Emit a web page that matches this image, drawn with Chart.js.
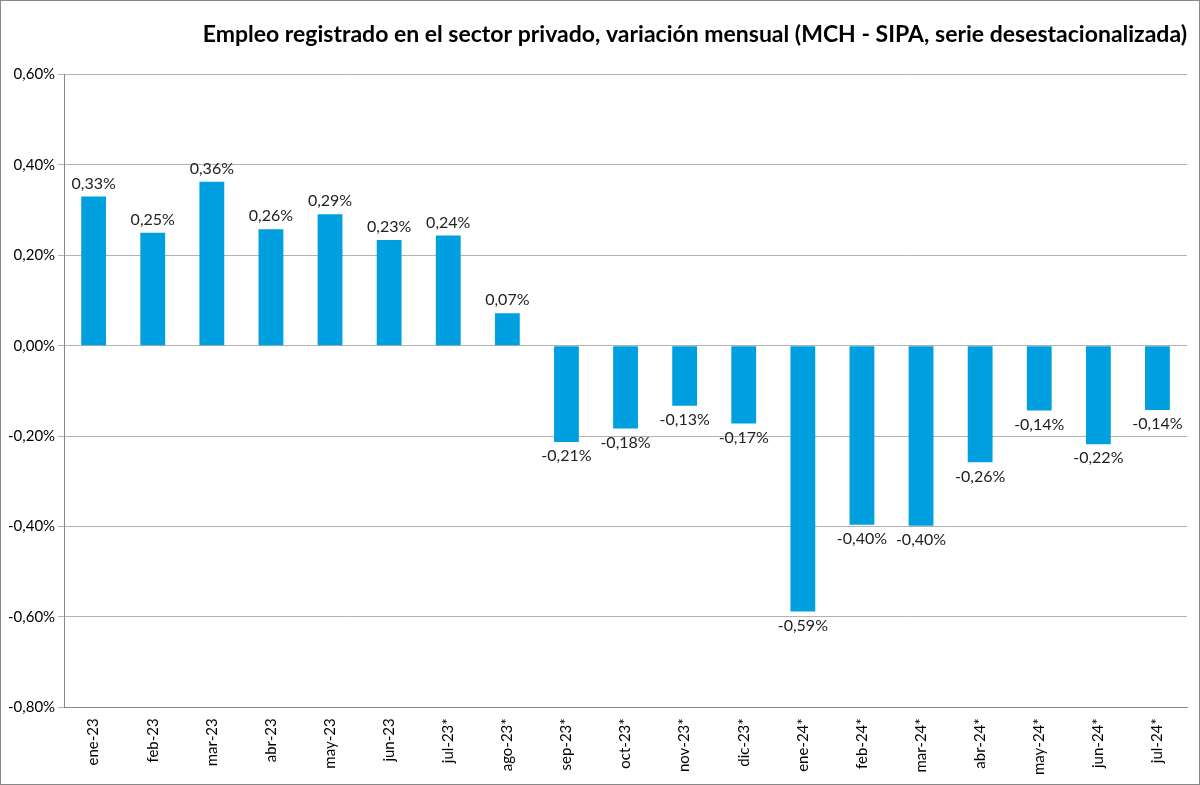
<!DOCTYPE html>
<html>
<head>
<meta charset="utf-8">
<script src="https://cdn.jsdelivr.net/npm/chart.js@4"></script>
<style>
  html, body { margin: 0; padding: 0; background: #fff; }
  #marco { width: 1198px; height: 783px; border: 1px solid #888; position: relative; }
</style>
</head>
<body>
<div id="marco"><canvas id="graficoEmpleo" width="1198" height="783"></canvas></div>
<script>
// ------------------------------------------------ DATOS ------------------------------------------------
const meses = ["ene-23", "feb-23", "mar-23", "abr-23", "may-23", "jun-23", "jul-23*", "ago-23*", "sep-23*", "oct-23*",
    "nov-23*", "dic-23*", "ene-24*", "feb-24*", "mar-24*", "abr-24*", "may-24*", "jun-24*", "jul-24*"];
const variacion = [0.33, 0.25, 0.363, 0.258, 0.291, 0.234, 0.244, 0.072, -0.213, -0.183,
    -0.133, -0.172, -0.588, -0.396, -0.398, -0.258, -0.143, -0.218, -0.142];
const ticksEjeY = [0.6, 0.4, 0.2, 0, -0.2, -0.4, -0.6, -0.8];

const formatoPct = v => v.toFixed(2).replace('.', ',') + '%';

// ------------------------------------------- ETIQUETAS DE DATOS ----------------------------------------------
const etiquetasBarras = {
    id: 'etiquetasBarras',
    afterDatasetsDraw(chart) {
        const ctx = chart.ctx;
        const meta = chart.getDatasetMeta(0);
        ctx.save();
        ctx.font = '16px Lato, "Open Sans", sans-serif';
        ctx.fillStyle = '#222';
        ctx.textAlign = 'center';
        meta.data.forEach((barra, i) => {
            const v = variacion[i];
            if (v >= 0) {
                ctx.textBaseline = 'bottom';
                ctx.fillText(formatoPct(v), barra.x, barra.y - 5);
            } else {
                ctx.textBaseline = 'top';
                ctx.fillText(formatoPct(v), barra.x, barra.y + 6);
            }
        });
        ctx.restore();
    }
};

const configEmpleo = {
    type: 'bar',
    data: {
        labels: meses,
        datasets: [{
            label: 'Variación mensual',
            data: variacion,
            backgroundColor: '#009FDF',
            barPercentage: 0.42,
            categoryPercentage: 1
        }]
    },
    options: {
        responsive: false,
        animation: false,
        layout: { padding: { top: 0, right: 12, left: 4, bottom: 6 } },
        plugins: {
            legend: { display: false },
            tooltip: { enabled: false },
            title: {
                display: true,
                text: 'Empleo registrado en el sector privado, variación mensual (MCH - SIPA, serie desestacionalizada)',
                color: '#000',
                align: 'end',
                font: { size: 23, weight: 'bold', family: 'Lato, "Open Sans", sans-serif' },
                padding: { top: 20, bottom: 26 }
            }
        },
        scales: {
            x: {
                grid: { display: false, drawTicks: true },
                border: { color: '#888' },
                ticks: {
                    color: '#000',
                    maxRotation: 90,
                    minRotation: 90,
                    font: { size: 15, family: 'Lato, "Open Sans", sans-serif' }
                }
            },
            y: {
                min: -0.8,
                max: 0.6,
                afterBuildTicks: axis => { axis.ticks = ticksEjeY.map(v => ({ value: v })); },
                grid: { color: '#b3b3b3', drawTicks: true, tickLength: 6 },
                border: { color: '#888' },
                ticks: {
                    color: '#000',
                    callback: v => formatoPct(v),
                    font: { size: 15, family: 'Lato, "Open Sans", sans-serif' }
                }
            }
        }
    },
    plugins: [etiquetasBarras]
};

var empleoChart = new Chart(document.getElementById('graficoEmpleo'), configEmpleo);
</script>
</body>
</html>
